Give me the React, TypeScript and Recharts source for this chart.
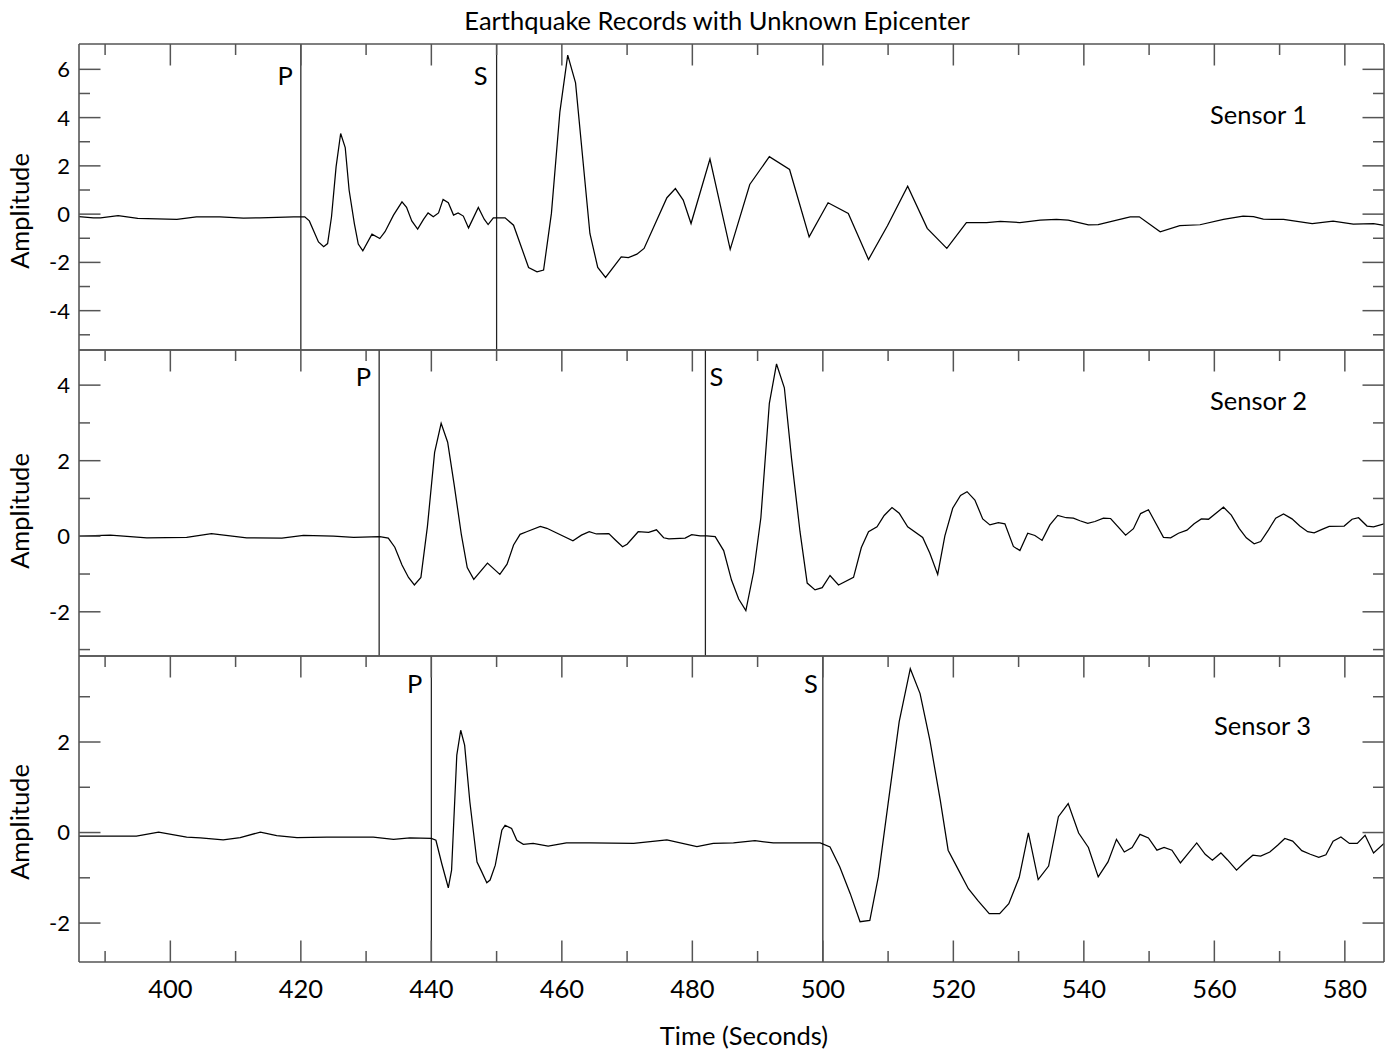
import React from 'react';
import { LineChart, Line, XAxis, YAxis, ReferenceLine } from 'recharts';

// ---------------- data ----------------
const X_DOMAIN: [number, number] = [386, 586];
const X_MAJOR = [400, 420, 440, 460, 480, 500, 520, 540, 560, 580];
const X_MINOR = [390, 410, 430, 450, 470, 490, 510, 530, 550, 570];

const SENSOR_NAMES = ['Sensor 1', 'Sensor 2', 'Sensor 3'];
const P_TIMES = [420, 432, 440];
const S_TIMES = [450, 482, 500];

const Y1_DOMAIN: [number, number] = [-5.63, 7.05];
const Y2_DOMAIN: [number, number] = [-3.17, 4.93];
const Y3_DOMAIN: [number, number] = [-2.86, 3.9];
const Y1_MAJOR = [-4, -2, 0, 2, 4, 6];
const Y1_MINOR = [-5, -3, -1, 1, 3, 5];
const Y2_MAJOR = [-2, 0, 2, 4];
const Y2_MINOR = [-3, -1, 1, 3];
const Y3_MAJOR = [-2, 0, 2];
const Y3_MINOR = [-1, 1, 3];

const S1_T = [386.0, 388.2, 389.3, 392.0, 395.0, 401.0, 404.0, 407.6, 411.2, 413.7, 418.9, 420.1, 420.6, 421.3, 422.7, 423.5, 424.1, 424.7, 425.4, 426.1, 426.8, 427.4, 428.2, 428.8, 429.5, 430.9, 432.1, 432.9, 434.2, 435.5, 436.2, 437.0, 437.9, 438.8, 439.5, 440.3, 441.1, 441.8, 442.6, 443.4, 444.1, 444.9, 445.7, 447.2, 448.1, 448.7, 449.5, 451.3, 452.6, 454.9, 456.2, 457.2, 458.4, 459.7, 460.9, 462.1, 464.3, 465.5, 466.7, 469.1, 470.2, 471.5, 472.6, 476.1, 477.4, 478.6, 479.8, 482.7, 485.8, 488.8, 491.8, 494.9, 497.9, 500.8, 503.9, 507.0, 509.9, 513.0, 516.0, 519.0, 522.0, 525.1, 527.2, 530.2, 533.3, 535.8, 537.6, 540.7, 542.2, 547.1, 548.5, 551.7, 554.7, 557.8, 561.4, 564.4, 566.0, 567.5, 570.6, 575.0, 578.2, 581.3, 584.4, 586.0];
const S1_V = [-0.10, -0.15, -0.15, -0.06, -0.18, -0.22, -0.11, -0.11, -0.17, -0.15, -0.11, -0.11, -0.11, -0.28, -1.15, -1.35, -1.22, -0.11, 1.96, 3.34, 2.76, 0.99, -0.39, -1.24, -1.52, -0.83, -1.01, -0.73, -0.04, 0.51, 0.28, -0.28, -0.62, -0.22, 0.05, -0.11, 0.05, 0.61, 0.47, -0.04, 0.05, -0.08, -0.57, 0.28, -0.21, -0.43, -0.15, -0.15, -0.46, -2.21, -2.39, -2.32, 0.03, 4.24, 6.59, 5.44, -0.80, -2.21, -2.62, -1.77, -1.80, -1.66, -1.42, 0.68, 1.06, 0.58, -0.39, 2.28, -1.46, 1.23, 2.38, 1.85, -0.94, 0.47, 0.03, -1.88, -0.48, 1.16, -0.59, -1.42, -0.35, -0.35, -0.30, -0.35, -0.25, -0.22, -0.25, -0.44, -0.43, -0.11, -0.11, -0.73, -0.48, -0.44, -0.22, -0.08, -0.10, -0.21, -0.22, -0.39, -0.29, -0.41, -0.39, -0.47];

const S2_T = [386.0, 390.8, 396.4, 402.5, 406.3, 411.7, 417.1, 420.4, 425.0, 428.1, 432.1, 433.4, 434.4, 435.5, 436.5, 437.4, 438.4, 439.4, 440.5, 441.5, 442.5, 443.5, 444.6, 445.5, 446.5, 448.6, 450.5, 451.6, 452.6, 453.6, 454.6, 456.7, 457.7, 461.7, 463.0, 464.2, 465.3, 467.2, 468.2, 469.3, 470.0, 471.7, 473.3, 474.5, 475.6, 476.4, 478.9, 479.9, 481.2, 482.2, 483.5, 484.8, 486.0, 487.1, 488.2, 489.4, 490.5, 491.8, 492.9, 494.1, 495.2, 496.5, 497.6, 498.8, 499.9, 501.1, 502.4, 504.7, 505.9, 507.0, 508.3, 509.4, 510.6, 511.7, 513.0, 515.3, 516.4, 517.6, 518.7, 519.9, 521.1, 522.1, 523.3, 524.5, 525.6, 526.9, 527.9, 529.2, 530.2, 531.4, 532.5, 533.6, 534.8, 536.0, 537.3, 538.4, 539.4, 540.6, 541.7, 543.0, 544.1, 546.4, 547.6, 548.7, 549.9, 552.2, 553.3, 554.5, 555.8, 556.9, 558.0, 559.1, 561.4, 562.6, 563.8, 564.9, 566.1, 567.1, 568.3, 569.4, 570.6, 571.9, 573.1, 574.3, 575.3, 576.5, 577.6, 579.9, 581.1, 582.1, 583.4, 584.4, 586.0];
const S2_V = [0.00, 0.03, -0.04, -0.03, 0.07, -0.04, -0.05, 0.02, 0.00, -0.03, -0.01, -0.05, -0.29, -0.76, -1.09, -1.29, -1.09, 0.26, 2.22, 2.99, 2.49, 1.36, 0.04, -0.83, -1.14, -0.71, -1.01, -0.74, -0.23, 0.05, 0.12, 0.26, 0.21, -0.12, 0.03, 0.12, 0.06, 0.07, -0.10, -0.28, -0.21, 0.12, 0.10, 0.17, -0.04, -0.07, -0.05, 0.04, 0.01, 0.01, -0.01, -0.38, -1.16, -1.66, -1.97, -0.94, 0.49, 3.52, 4.56, 3.93, 2.06, 0.12, -1.24, -1.42, -1.36, -1.04, -1.29, -1.09, -0.30, 0.12, 0.25, 0.55, 0.76, 0.61, 0.25, -0.03, -0.45, -1.01, 0.01, 0.74, 1.08, 1.18, 0.96, 0.46, 0.30, 0.36, 0.33, -0.27, -0.38, 0.08, 0.02, -0.11, 0.30, 0.55, 0.49, 0.48, 0.41, 0.34, 0.39, 0.48, 0.47, 0.03, 0.20, 0.60, 0.70, -0.03, -0.04, 0.08, 0.16, 0.33, 0.46, 0.45, 0.77, 0.56, 0.21, -0.04, -0.20, -0.14, 0.17, 0.48, 0.59, 0.46, 0.27, 0.12, 0.09, 0.18, 0.26, 0.27, 0.45, 0.49, 0.27, 0.25, 0.33];

const S3_T = [386.0, 394.8, 398.2, 402.5, 404.6, 408.1, 410.7, 413.8, 416.3, 419.4, 424.0, 431.1, 434.2, 436.7, 440.0, 440.7, 441.6, 442.6, 443.1, 443.9, 444.5, 445.1, 445.9, 447.0, 447.6, 448.5, 449.0, 449.8, 450.8, 451.3, 452.3, 453.1, 454.1, 455.6, 457.9, 460.7, 464.3, 471.0, 476.1, 480.7, 483.2, 486.3, 489.6, 492.4, 499.6, 501.1, 502.6, 504.2, 505.7, 507.2, 508.5, 510.0, 511.7, 513.4, 514.9, 516.4, 518.0, 519.2, 520.8, 522.3, 523.8, 525.5, 527.1, 528.5, 530.1, 531.5, 533.0, 534.6, 536.1, 537.6, 539.2, 540.7, 542.2, 543.7, 545.0, 546.2, 547.4, 548.6, 549.9, 551.2, 552.3, 553.5, 554.8, 557.3, 558.6, 559.7, 561.0, 562.0, 563.4, 564.7, 565.9, 567.1, 568.5, 569.7, 570.8, 572.0, 573.4, 574.7, 576.0, 577.1, 578.2, 579.4, 580.7, 581.9, 583.1, 584.4, 586.0];
const S3_V = [-0.08, -0.08, 0.01, -0.10, -0.12, -0.16, -0.11, 0.01, -0.07, -0.11, -0.10, -0.10, -0.15, -0.12, -0.13, -0.17, -0.69, -1.22, -0.83, 1.71, 2.26, 1.93, 0.68, -0.65, -0.83, -1.11, -1.05, -0.72, 0.05, 0.16, 0.09, -0.17, -0.26, -0.24, -0.30, -0.23, -0.23, -0.24, -0.16, -0.31, -0.24, -0.23, -0.18, -0.23, -0.23, -0.32, -0.76, -1.35, -1.97, -1.94, -0.98, 0.64, 2.45, 3.62, 3.07, 2.04, 0.71, -0.39, -0.83, -1.24, -1.51, -1.79, -1.79, -1.57, -0.99, -0.01, -1.04, -0.74, 0.35, 0.64, -0.01, -0.33, -0.98, -0.65, -0.15, -0.43, -0.33, -0.04, -0.12, -0.39, -0.33, -0.39, -0.67, -0.23, -0.48, -0.61, -0.45, -0.60, -0.83, -0.65, -0.50, -0.52, -0.43, -0.28, -0.13, -0.19, -0.40, -0.48, -0.55, -0.49, -0.19, -0.10, -0.24, -0.24, -0.06, -0.45, -0.24];

const TITLE = 'Earthquake Records with Unknown Epicenter';
const X_TITLE = 'Time (Seconds)';
const Y_TITLE = 'Amplitude';

// ---------------- styling / layout ----------------
const FONT = 'Lato, "Open Sans", "DejaVu Sans", sans-serif';
const AXIS_COLOR = '#555555';
const AXIS_W = 1.6;
const TICK_W = 1.5;
const MAJOR_LEN = 21.5;
const MINOR_LEN = 11;
const LABEL_FS = 25.5;
const YTICK_FS = 22;
const PAGE_W = 1389;
const PLOT_LEFT = 79;
const PLOT_RIGHT_GAP = 5;
const AX = 1; // thickness reserved by each axis box (must be > 0 for Recharts to draw it)

const toRows = (ts: number[], vs: number[]) => ts.map((t, i) => ({ t, v: vs[i] }));

const PANELS = [
  {
    rows: toRows(S1_T, S1_V), yDomain: Y1_DOMAIN, yMajor: Y1_MAJOR, yMinor: Y1_MINOR,
    divTop: 0, padTop: 44, padBottom: 4, plotH: 306, bottomTicks: false,
    pAnchor: 'end', pDx: -8, sAnchor: 'end', sDx: -9, labelDy: 41,
    sensorX: 1210, sensorY: 124, ampY: 211,
  },
  {
    rows: toRows(S2_T, S2_V), yDomain: Y2_DOMAIN, yMajor: Y2_MAJOR, yMinor: Y2_MINOR,
    divTop: 346, padTop: 4, padBottom: 4, plotH: 306, bottomTicks: false,
    pAnchor: 'end', pDx: -8, sAnchor: 'start', sDx: 4, labelDy: 36,
    sensorX: 1210, sensorY: 410, ampY: 511,
  },
  {
    rows: toRows(S3_T, S3_V), yDomain: Y3_DOMAIN, yMajor: Y3_MAJOR, yMinor: Y3_MINOR,
    divTop: 652, padTop: 4, padBottom: 89, plotH: 306, bottomTicks: true,
    pAnchor: 'end', pDx: -9, sAnchor: 'end', sDx: -5, labelDy: 37,
    sensorX: 1214, sensorY: 735, ampY: 822,
  },
];

// ---------------- tick renderers ----------------
const leftTick = (majors: number[]) => (props: any) => {
  const { x, y, payload } = props;
  const major = majors.includes(payload.value);
  return (
    <g>
      <line x1={x} y1={y} x2={x + (major ? MAJOR_LEN : MINOR_LEN)} y2={y} stroke={AXIS_COLOR} strokeWidth={TICK_W} />
      {major && (
        <text x={x - 9} y={y} dy="0.36em" textAnchor="end" fontFamily={FONT} fontSize={YTICK_FS} fill="#000">
          {String(payload.value)}
        </text>
      )}
    </g>
  );
};

const rightTick = (majors: number[]) => (props: any) => {
  const { x, y, payload } = props;
  const major = majors.includes(payload.value);
  return <line x1={x} y1={y} x2={x - (major ? MAJOR_LEN : MINOR_LEN)} y2={y} stroke={AXIS_COLOR} strokeWidth={TICK_W} />;
};

const topTick = (props: any) => {
  const { x, y, payload } = props;
  const major = X_MAJOR.includes(payload.value);
  return <line x1={x} y1={y} x2={x} y2={y + (major ? MAJOR_LEN : MINOR_LEN)} stroke={AXIS_COLOR} strokeWidth={TICK_W} />;
};

const bottomTick = (props: any) => {
  const { x, y, payload } = props;
  const major = X_MAJOR.includes(payload.value);
  return (
    <g>
      <line x1={x} y1={y} x2={x} y2={y - (major ? MAJOR_LEN : MINOR_LEN)} stroke={AXIS_COLOR} strokeWidth={TICK_W} />
      {major && (
        <text x={x} y={y + 35.7} textAnchor="middle" fontFamily={FONT} fontSize={LABEL_FS} fill="#000">
          {String(payload.value)}
        </text>
      )}
    </g>
  );
};

const noTick = () => <g />;

const phaseLabel = (text: string, anchor: string, dx: number, dy: number) => (props: any) => {
  const vb = props.viewBox || {};
  return (
    <text x={(vb.x || 0) + dx} y={(vb.y || 0) + dy} textAnchor={anchor} fontFamily={FONT} fontSize={LABEL_FS} fill="#000">
      {text}
    </text>
  );
};

const X_TICKS = [...X_MINOR, ...X_MAJOR].sort((a, b) => a - b);

function Panel({ idx }: { idx: number }) {
  const p = PANELS[idx];
  const yTicks = [...p.yMinor, ...p.yMajor].sort((a, b) => a - b);
  const h = p.padTop + p.plotH + p.padBottom;
  const axisLine = { stroke: AXIS_COLOR, strokeWidth: AXIS_W };
  return (
    <div style={{ position: 'absolute', left: 0, top: p.divTop, width: PAGE_W, height: h }}>
      <LineChart
        width={PAGE_W}
        height={h}
        data={p.rows}
        margin={{
          top: p.padTop - AX,
          right: PLOT_RIGHT_GAP - AX,
          bottom: p.padBottom - AX,
          left: PLOT_LEFT - AX,
        }}
      >
        <XAxis
          xAxisId="b" orientation="bottom" type="number" dataKey="t" domain={X_DOMAIN} allowDataOverflow
          ticks={X_TICKS} interval={0} height={AX} tickSize={0} tickMargin={0} tickLine={false}
          tick={p.bottomTicks ? bottomTick : noTick} axisLine={axisLine}
        />
        <XAxis
          xAxisId="t" orientation="top" type="number" dataKey="t" domain={X_DOMAIN} allowDataOverflow
          ticks={X_TICKS} interval={0} height={AX} tickSize={0} tickMargin={0} tickLine={false}
          tick={topTick} axisLine={axisLine}
        />
        <YAxis
          yAxisId="l" orientation="left" type="number" domain={p.yDomain} allowDataOverflow
          ticks={yTicks} interval={0} width={AX} tickSize={0} tickMargin={0} tickLine={false}
          tick={leftTick(p.yMajor)} axisLine={axisLine}
        />
        <YAxis
          yAxisId="r" orientation="right" type="number" domain={p.yDomain} allowDataOverflow
          ticks={yTicks} interval={0} width={AX} tickSize={0} tickMargin={0} tickLine={false}
          tick={rightTick(p.yMajor)} axisLine={axisLine}
        />
        <ReferenceLine
          xAxisId="b" yAxisId="l" x={P_TIMES[idx]} stroke="#222222" strokeWidth={1.25}
          label={phaseLabel('P', p.pAnchor, p.pDx, p.labelDy)}
        />
        <ReferenceLine
          xAxisId="b" yAxisId="l" x={S_TIMES[idx]} stroke="#222222" strokeWidth={1.25}
          label={phaseLabel('S', p.sAnchor, p.sDx, p.labelDy)}
        />
        <Line
          xAxisId="b" yAxisId="l" type="linear" dataKey="v" stroke="#000" strokeWidth={1.25}
          dot={false} activeDot={false} isAnimationActive={false}
        />
      </LineChart>
    </div>
  );
}

export default function App() {
  return (
    <div style={{ position: 'absolute', left: 0, top: 0, width: PAGE_W, height: 1051, background: '#fff' }}>
      <Panel idx={0} />
      <Panel idx={1} />
      <Panel idx={2} />
      <svg
        width={PAGE_W}
        height={1051}
        style={{ position: 'absolute', left: 0, top: 0, pointerEvents: 'none' }}
      >
        <text x={717} y={29.5} textAnchor="middle" fontFamily={FONT} fontSize={LABEL_FS} fill="#000">
          {TITLE}
        </text>
        <text x={744} y={1045} textAnchor="middle" fontFamily={FONT} fontSize={LABEL_FS} fill="#000">
          {X_TITLE}
        </text>
        {PANELS.map((p, i) => (
          <g key={i}>
            <text x={p.sensorX} y={p.sensorY} fontFamily={FONT} fontSize={LABEL_FS} fill="#000">
              {SENSOR_NAMES[i]}
            </text>
            <text
              x={29}
              y={p.ampY}
              textAnchor="middle"
              transform={`rotate(-90 29 ${p.ampY})`}
              fontFamily={FONT}
              fontSize={LABEL_FS}
              fill="#000"
            >
              {Y_TITLE}
            </text>
          </g>
        ))}
      </svg>
    </div>
  );
}
